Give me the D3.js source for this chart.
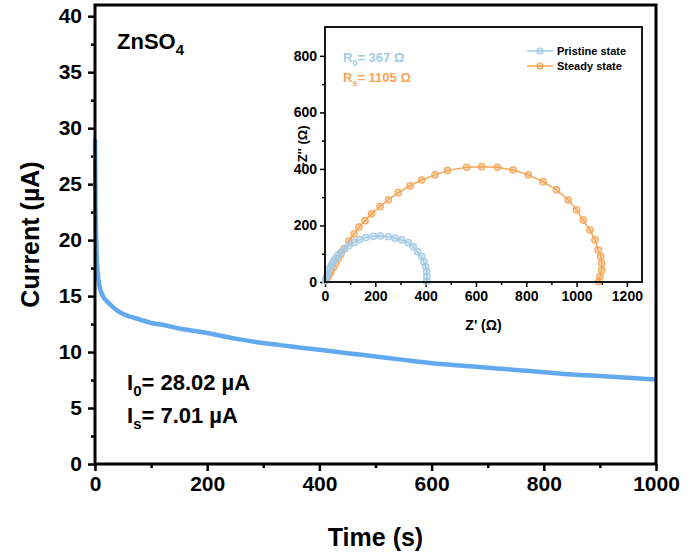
<!DOCTYPE html>
<html>
<head>
<meta charset="utf-8">
<script src="https://cdn.jsdelivr.net/npm/d3@7"></script>
<style>
  body { margin: 0; background: #fff; }
  svg { display: block; font-family: "Liberation Sans", Arial, sans-serif; font-weight: bold; }
</style>
</head>
<body>
<div id="chart"></div>
<script>
// Main i-t curve (time in s, current in µA)
const timeS = [0, 0.5, 1, 2, 3, 4, 6, 8, 10, 15, 20, 30, 40, 50, 60, 80, 100, 125, 150, 175, 200,
  250, 300, 350, 400, 450, 500, 550, 600, 650, 700, 750, 800, 850, 900, 950, 1000];
const currentUA = [29.0, 25.8, 22.8, 20.2, 18.5, 17.5, 16.5, 15.9, 15.5, 14.9, 14.6, 14.1, 13.7, 13.4, 13.2, 12.9, 12.6, 12.4, 12.1, 11.9, 11.7,
  11.2, 10.8, 10.5, 10.2, 9.9, 9.6, 9.3, 9.0, 8.8, 8.6, 8.4, 8.2, 8.0, 7.85, 7.7, 7.55];
const mainXTicks = [0, 200, 400, 600, 800, 1000];
const mainYTicks = [0, 5, 10, 15, 20, 25, 30, 35, 40];

// Inset Nyquist plots (Z' and -Z'' in ohm)
const pristineZre = [2, 4, 6, 9, 12, 16, 21, 27, 34, 42, 52, 64, 78, 95, 115, 138, 163, 192, 220, 252, 278, 305, 331, 351, 368, 384, 393, 400, 404, 405, 404];
const pristineZim = [5, 11, 18, 26, 34, 43, 52, 62, 73, 84, 95, 106, 117, 128, 140, 150, 157, 162, 163, 160, 155, 149, 139, 125, 107, 90, 72, 54, 37, 19, 2];
const steadyZre = [3, 7, 12, 18, 25, 33, 42, 52, 63, 76, 95, 115, 135, 159, 185, 219, 252, 291, 338, 384, 437, 487, 563, 623, 685, 748, 808, 867, 920, 967, 1000, 1026, 1053, 1073, 1086, 1096, 1100, 1100, 1093, 1088];
const steadyZim = [5, 11, 19, 28, 39, 52, 66, 81, 98, 118, 145, 170, 194, 217, 241, 267, 290, 316, 340, 361, 379, 394, 406, 408, 406, 396, 379, 355, 326, 290, 255, 219, 184, 149, 113, 90, 66, 42, 19, 2];
const insetXTicks = [0, 200, 400, 600, 800, 1000, 1200];
const insetYTicks = [0, 200, 400, 600, 800];

const W = 693, H = 558;
const svg = d3.select("#chart").append("svg").attr("width", W).attr("height", H);
const fmt = d3.format("d");

// ---------- main chart ----------
const m = { left: 95, right: 656, top: 5, bottom: 464 };
const x = d3.scaleLinear().domain([0, 1000]).range([m.left, m.right]);
const y = d3.scaleLinear().domain([0, 41]).range([m.bottom, m.top]);

function styleAxis(g, fontSize, width) {
  g.select(".domain").remove();
  g.selectAll("line").attr("stroke", "#000").attr("stroke-width", width);
  g.selectAll("text").attr("font-size", fontSize).attr("font-weight", "bold").attr("fill", "#000");
}

// minor ticks
svg.append("g").attr("transform", `translate(0,${m.bottom})`)
  .call(d3.axisBottom(x).tickValues(d3.range(100, 1000, 200)).tickSize(4).tickFormat(""))
  .call(g => styleAxis(g, 0, 2.5));
svg.append("g").attr("transform", `translate(${m.left},0)`)
  .call(d3.axisLeft(y).tickValues(d3.range(2.5, 40, 5)).tickSize(4).tickFormat(""))
  .call(g => styleAxis(g, 0, 2.5));

// major ticks
svg.append("g").attr("transform", `translate(0,${m.bottom})`)
  .call(d3.axisBottom(x).tickValues(mainXTicks).tickSize(7).tickPadding(5).tickFormat(fmt))
  .call(g => styleAxis(g, 21, 2.5));
svg.append("g").attr("transform", `translate(${m.left},0)`)
  .call(d3.axisLeft(y).tickValues(mainYTicks).tickSize(7).tickPadding(6).tickFormat(fmt))
  .call(g => styleAxis(g, 21, 2.5));

// curve
svg.append("path")
  .datum(timeS.map((t, i) => [t, currentUA[i]]))
  .attr("fill", "none")
  .attr("stroke", "#63a9ef")
  .attr("stroke-width", 4.5)
  .attr("stroke-linejoin", "round")
  .attr("d", d3.line().x(d => x(d[0])).y(d => y(d[1])).curve(d3.curveMonotoneX));

// frame
svg.append("rect")
  .attr("x", m.left).attr("y", m.top)
  .attr("width", m.right - m.left).attr("height", m.bottom - m.top)
  .attr("fill", "none").attr("stroke", "#000").attr("stroke-width", 3);

// axis titles
svg.append("text").attr("x", (m.left + m.right) / 2).attr("y", 546)
  .attr("text-anchor", "middle").attr("font-size", 25).text("Time (s)");
svg.append("text")
  .attr("transform", `translate(39,${(m.top + m.bottom) / 2}) rotate(-90)`)
  .attr("text-anchor", "middle").attr("font-size", 25).text("Current (µA)");

// annotations
const zn = svg.append("text").attr("x", 117).attr("y", 49).attr("font-size", 22);
zn.append("tspan").text("ZnSO");
zn.append("tspan").attr("font-size", 15).attr("dy", 6).text("4");

const i0 = svg.append("text").attr("x", 127).attr("y", 390).attr("font-size", 22);
i0.append("tspan").text("I");
i0.append("tspan").attr("font-size", 15).attr("dy", 6).text("0");
i0.append("tspan").attr("dy", -6).text("= 28.02 µA");

const is = svg.append("text").attr("x", 127).attr("y", 423).attr("font-size", 22);
is.append("tspan").text("I");
is.append("tspan").attr("font-size", 15).attr("dy", 6).text("s");
is.append("tspan").attr("dy", -6).text("= 7.01 µA");

// ---------- inset ----------
const n = { left: 325, right: 642, top: 27, bottom: 282 };
const ix = d3.scaleLinear().domain([0, 1260]).range([n.left, n.right]);
const iy = d3.scaleLinear().domain([0, 902]).range([n.bottom, n.top]);
const blue = "#a3cbe3", orange = "#f5a556";

const inset = svg.append("g");
inset.append("g").attr("transform", `translate(0,${n.bottom})`)
  .call(d3.axisBottom(ix).tickValues(d3.range(100, 1300, 200)).tickSize(3).tickFormat(""))
  .call(g => styleAxis(g, 0, 1.5));
inset.append("g").attr("transform", `translate(${n.left},0)`)
  .call(d3.axisLeft(iy).tickValues(d3.range(100, 900, 200)).tickSize(3).tickFormat(""))
  .call(g => styleAxis(g, 0, 1.5));
inset.append("g").attr("transform", `translate(0,${n.bottom})`)
  .call(d3.axisBottom(ix).tickValues(insetXTicks).tickSize(5).tickPadding(4).tickFormat(fmt))
  .call(g => styleAxis(g, 14, 1.5));
inset.append("g").attr("transform", `translate(${n.left},0)`)
  .call(d3.axisLeft(iy).tickValues(insetYTicks).tickSize(5).tickPadding(3).tickFormat(fmt))
  .call(g => styleAxis(g, 14, 1.5));

function drawSeries(xs, ys, color) {
  const pts = xs.map((v, i) => [v, ys[i]]);
  inset.append("path").datum(pts)
    .attr("fill", "none").attr("stroke", color).attr("stroke-width", 1.5)
    .attr("d", d3.line().x(d => ix(d[0])).y(d => iy(d[1])));
  inset.append("g").selectAll("circle").data(pts).join("circle")
    .attr("cx", d => ix(d[0])).attr("cy", d => iy(d[1])).attr("r", 3.2)
    .attr("fill", color).attr("fill-opacity", 0.45)
    .attr("stroke", color).attr("stroke-width", 1.2);
}
drawSeries(steadyZre, steadyZim, orange);
drawSeries(pristineZre, pristineZim, blue);

inset.append("rect")
  .attr("x", n.left).attr("y", n.top)
  .attr("width", n.right - n.left).attr("height", n.bottom - n.top)
  .attr("fill", "none").attr("stroke", "#000").attr("stroke-width", 1.8);

inset.append("text").attr("x", (n.left + n.right) / 2).attr("y", 330)
  .attr("text-anchor", "middle").attr("font-size", 14).text("Z' (Ω)");
inset.append("text")
  .attr("transform", `translate(307,146) rotate(-90)`)
  .attr("text-anchor", "middle").attr("font-size", 13).text("-Z'' (Ω)");

const r0 = inset.append("text").attr("x", 343).attr("y", 62).attr("font-size", 13).attr("fill", blue);
r0.append("tspan").text("R");
r0.append("tspan").attr("font-size", 9).attr("dy", 4).text("0");
r0.append("tspan").attr("dy", -4).text("= 367 Ω");
const rs = inset.append("text").attr("x", 343).attr("y", 82).attr("font-size", 13).attr("fill", orange);
rs.append("tspan").text("R");
rs.append("tspan").attr("font-size", 9).attr("dy", 4).text("s");
rs.append("tspan").attr("dy", -4).text("= 1105 Ω");

// legend
const legendItems = [["Pristine state", blue], ["Steady state", orange]];
legendItems.forEach(([label, color], i) => {
  const ly = 51 + i * 15;
  inset.append("line").attr("x1", 527).attr("x2", 553).attr("y1", ly).attr("y2", ly)
    .attr("stroke", color).attr("stroke-width", 1.5);
  inset.append("circle").attr("cx", 540).attr("cy", ly).attr("r", 3)
    .attr("fill", color).attr("fill-opacity", 0.45).attr("stroke", color).attr("stroke-width", 1.2);
  inset.append("text").attr("x", 557).attr("y", ly + 4).attr("font-size", 11).attr("fill", "#000").text(label);
});
</script>
</body>
</html>
